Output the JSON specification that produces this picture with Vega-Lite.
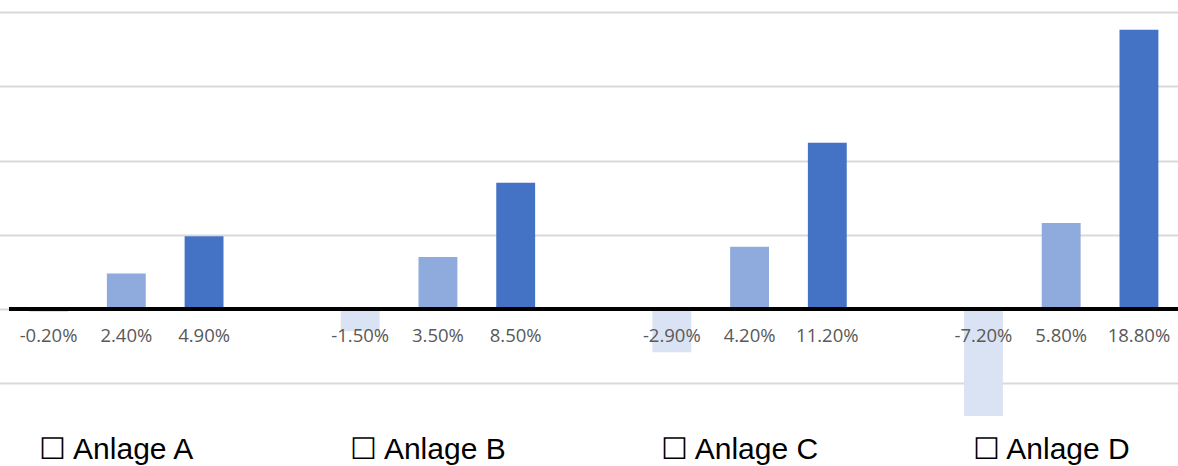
{
  "$schema": "https://vega.github.io/schema/vega-lite/v6.json",
  "autosize": {"type": "none"},
  "width": 1169,
  "height": 404,
  "padding": {"left": 9, "top": 12, "right": 0, "bottom": 50},
  "background": "white",
  "config": {
    "view": {"stroke": null},
    "locale": {"number": {"decimal": ".", "thousands": ",", "grouping": [3], "currency": ["$", ""], "minus": "-"}}
  },
  "data": {
    "values": [
      {"anlage": "Anlage A", "serie": "S1", "wert": -0.002},
      {"anlage": "Anlage A", "serie": "S2", "wert": 0.024},
      {"anlage": "Anlage A", "serie": "S3", "wert": 0.049},
      {"anlage": "Anlage B", "serie": "S1", "wert": -0.015},
      {"anlage": "Anlage B", "serie": "S2", "wert": 0.035},
      {"anlage": "Anlage B", "serie": "S3", "wert": 0.085},
      {"anlage": "Anlage C", "serie": "S1", "wert": -0.029},
      {"anlage": "Anlage C", "serie": "S2", "wert": 0.042},
      {"anlage": "Anlage C", "serie": "S3", "wert": 0.112},
      {"anlage": "Anlage D", "serie": "S1", "wert": -0.072},
      {"anlage": "Anlage D", "serie": "S2", "wert": 0.058},
      {"anlage": "Anlage D", "serie": "S3", "wert": 0.188}
    ]
  },
  "layer": [
    {
      "mark": {"type": "bar"},
      "encoding": {
        "x": {
          "field": "anlage",
          "type": "nominal",
          "sort": ["Anlage A", "Anlage B", "Anlage C", "Anlage D"],
          "scale": {"range": [-38.5, 1208], "paddingInner": 0, "paddingOuter": 0},
          "axis": {
            "title": null,
            "domain": false,
            "ticks": false,
            "labelAngle": 0,
            "labelExpr": "'☐  ' + datum.label",
            "labelFont": "Liberation Sans",
            "labelFontSize": 30,
            "labelColor": "#000000",
            "labelBaseline": "alphabetic",
            "labelPadding": 42,
            "labelOffset": -10,
            "labelOverlap": false,
            "labelBound": false,
            "grid": false
          }
        },
        "xOffset": {
          "field": "serie",
          "type": "nominal",
          "sort": ["S1", "S2", "S3"],
          "scale": {"paddingInner": 0.5, "paddingOuter": 0.754}
        },
        "y": {
          "field": "wert",
          "type": "quantitative",
          "scale": {"domain": [-0.072, 0.2], "nice": false, "zero": true},
          "axis": {
            "title": null,
            "values": [-0.05, 0, 0.05, 0.1, 0.15, 0.2],
            "labels": false,
            "ticks": false,
            "domain": false,
            "grid": true,
            "gridColor": "#D9D9D9",
            "gridWidth": 2
          }
        },
        "color": {
          "field": "serie",
          "type": "nominal",
          "scale": {"domain": ["S1", "S2", "S3"], "range": ["#DAE3F3", "#8FAADC", "#4472C4"]},
          "legend": null
        }
      }
    },
    {
      "mark": {"type": "rule", "color": "#000000", "strokeWidth": 3},
      "encoding": {"y": {"datum": 0}}
    },
    {
      "mark": {
        "type": "text",
        "font": "Open Sans",
        "fontSize": 18.5,
        "color": "#595959",
        "baseline": "alphabetic",
        "align": "center",
        "dy": 33
      },
      "encoding": {
        "x": {"field": "anlage", "type": "nominal", "sort": ["Anlage A", "Anlage B", "Anlage C", "Anlage D"]},
        "xOffset": {"field": "serie", "type": "nominal", "sort": ["S1", "S2", "S3"]},
        "y": {"datum": 0},
        "text": {"field": "wert", "type": "quantitative", "format": ".2%"}
      }
    }
  ]
}
